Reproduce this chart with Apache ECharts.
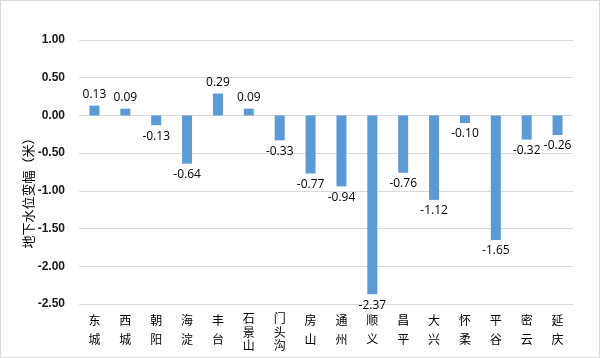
<!DOCTYPE html>
<html><head><meta charset="utf-8">
<script src="https://cdn.jsdelivr.net/npm/echarts@6/dist/echarts.min.js"></script>
<style>html,body{margin:0;padding:0;background:#fff}#c{width:598px;height:356px;border:1px solid #d9d9d9}</style>
</head><body><div id="c"></div>
<script>
var categories = ['东城','西城','朝阳','海淀','丰台','石景山','门头沟','房山','通州','顺义','昌平','大兴','怀柔','平谷','密云','延庆'];
var values = [0.13,0.09,-0.13,-0.64,0.29,0.09,-0.33,-0.77,-0.94,-2.37,-0.76,-1.12,-0.10,-1.65,-0.32,-0.26];
var yTitle = '地下水位变幅（米）';
var chart = echarts.init(document.getElementById('c'));
chart.setOption({
  animation:false,
  grid:{left:78,right:26,top:39,bottom:53,containLabel:false,outerBoundsMode:'none'},
  graphic:[{type:'text',x:27,y:189,rotation:Math.PI/2,
    style:{text:yTitle,align:'center',verticalAlign:'middle',fill:'#000',fontSize:13,fontFamily:'"Noto Sans CJK SC"'}}],
  xAxis:{type:'category',data:categories,position:'bottom',
    axisLine:{show:false},axisTick:{show:false},
    axisLabel:{interval:0,margin:7,color:'#000',fontSize:12,
      fontFamily:'"Noto Sans CJK SC"',
      rich:{a:{lineHeight:19,fontSize:12,fontFamily:'"Noto Sans CJK SC"',color:'#000'},
            b:{lineHeight:13.5,fontSize:12,fontFamily:'"Noto Sans CJK SC"',color:'#000',padding:[2,0,0,0]}},
      formatter:function(v){var s=v.split('');var k=s.length>2?'b':'a';return s.map(function(c){return '{'+k+'|'+c+'}';}).join('\n');}}},
  yAxis:{type:'value',min:-2.5,max:1.0,interval:0.5,
    axisLabel:{margin:14,color:'#1a1a1a',fontSize:12,fontWeight:'bold',fontFamily:'"Liberation Sans", Arial',
      formatter:function(v){return v.toFixed(2);}},
    splitLine:{lineStyle:{color:'#d9d9d9'}},axisLine:{show:false},axisTick:{show:false}},
  series:[{type:'bar',barWidth:10,
    data:values.map(function(v){return {value:v,label:{position:v>=0?'top':'bottom'}};}),
    itemStyle:{color:'#5b9bd5'},
    label:{show:true,color:'#000',fontSize:12,distance:5,fontFamily:'"Open Sans"',
      formatter:function(p){return p.value.toFixed(2);}}}]
});
</script></body></html>
